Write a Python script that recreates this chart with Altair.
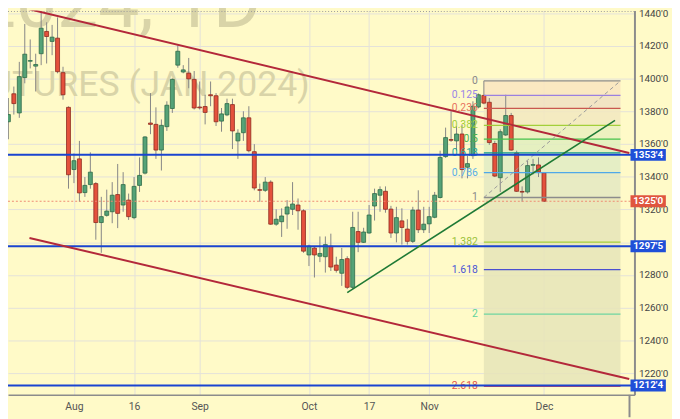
import altair as alt
import pandas as pd

# ---- data (index 0 = 14 Jul 2023 ... 98 = 1 Dec 2023, trading days) ----
DATE_TICKS = [12, 23, 35, 55, 66, 77, 98]
DATE_LABELS = ["Aug", "16", "Sep", "Oct", "17", "Nov", "Dec"]
PRICE_TICKS = [1220, 1240, 1260, 1280, 1300, 1320, 1340, 1360, 1380, 1400, 1420, 1440]
HIDDEN_PRICE_LABELS = [1300]  # covered by the 1297'5 marker in the original

OPEN = [1373.6, 1390.7, 1379.0, 1400.6, 1410.6, 1407.6, 1415.2, 1428.8, 1422.7, 1424.7,
        1403.6, 1382.4, 1344.4, 1350.9, 1330.3, 1335.2, 1335.8, 1312.0, 1316.4, 1318.6,
        1329.1, 1322.7, 1325.7, 1315.0, 1334.7, 1342.2, 1372.8, 1372.0, 1356.3, 1370.6,
        1381.7, 1408.2, 1404.0, 1403.3, 1399.5, 1382.6, 1382.9, 1390.1, 1389.5, 1374.0,
        1377.8, 1384.1, 1361.9, 1366.9, 1376.0, 1355.3, 1332.1, 1331.7, 1336.7, 1311.0,
        1312.5, 1317.2, 1320.1, 1322.7, 1319.2, 1292.2, 1296.4, 1291.4, 1291.1, 1297.5,
        1286.0, 1281.0, 1289.9, 1272.4, 1306.5, 1299.9, 1305.6, 1322.1, 1328.7, 1331.1,
        1320.2, 1305.6, 1313.0, 1308.0, 1300.5, 1319.6, 1307.6, 1311.2, 1315.2, 1327.3,
        1352.3, 1362.7, 1361.9, 1366.1, 1345.8, 1352.9, 1382.6, 1389.7, 1385.5, 1360.3,
        1339.4, 1365.5, 1377.4, 1354.5, 1331.0, 1330.7, 1347.0, 1347.2, 1342.3]
HIGH = [1388.1, 1395.1, 1410.2, 1433.4, 1423.9, 1415.2, 1440.4, 1434.4, 1432.8, 1437.4,
        1407.2, 1383.0, 1354.2, 1361.9, 1339.8, 1354.9, 1336.7, 1327.7, 1332.1, 1336.7,
        1347.8, 1342.8, 1329.7, 1339.8, 1351.8, 1364.8, 1391.1, 1382.4, 1375.0, 1386.1,
        1400.1, 1420.3, 1408.2, 1412.6, 1404.6, 1398.2, 1390.1, 1398.2, 1391.1, 1382.0,
        1387.7, 1387.7, 1369.0, 1380.0, 1383.1, 1359.9, 1335.8, 1339.8, 1337.8, 1320.1,
        1320.7, 1325.7, 1336.7, 1326.7, 1320.1, 1298.5, 1297.3, 1303.5, 1303.5, 1305.2,
        1291.1, 1296.5, 1291.4, 1318.6, 1318.6, 1308.8, 1322.7, 1332.7, 1334.1, 1334.1,
        1322.2, 1321.6, 1320.7, 1314.0, 1321.6, 1331.7, 1321.6, 1321.6, 1330.7, 1355.9,
        1370.0, 1380.0, 1371.0, 1372.0, 1352.9, 1386.1, 1390.9, 1398.6, 1388.1, 1361.9,
        1369.0, 1390.1, 1379.0, 1355.9, 1334.1, 1349.8, 1350.9, 1351.8, 1342.8]
LOW = [1362.9, 1378.0, 1376.0, 1397.1, 1406.2, 1392.1, 1408.2, 1409.2, 1414.3, 1403.2,
       1387.1, 1332.7, 1336.1, 1324.7, 1327.7, 1332.7, 1301.5, 1293.5, 1315.6, 1311.6,
       1308.6, 1318.6, 1313.6, 1314.0, 1330.7, 1341.4, 1366.0, 1350.9, 1343.8, 1368.0,
       1379.0, 1406.6, 1403.2, 1394.1, 1381.1, 1381.1, 1372.0, 1383.1, 1371.0, 1367.5,
       1377.0, 1356.9, 1350.9, 1361.9, 1354.9, 1331.7, 1324.7, 1330.7, 1310.6, 1310.0,
       1303.2, 1308.2, 1316.6, 1307.6, 1293.5, 1285.4, 1278.4, 1287.8, 1281.4, 1282.4,
       1281.4, 1273.3, 1271.3, 1271.3, 1293.9, 1299.5, 1305.2, 1313.2, 1318.6, 1318.0,
       1302.6, 1299.9, 1298.5, 1298.5, 1299.5, 1305.6, 1305.6, 1305.6, 1314.6, 1326.7,
       1351.5, 1361.3, 1355.9, 1339.0, 1339.0, 1350.9, 1381.8, 1384.3, 1359.5, 1339.8,
       1330.7, 1364.9, 1355.9, 1330.7, 1324.7, 1329.7, 1341.4, 1339.8, 1324.7]
CLOSE = [1378.0, 1384.7, 1401.2, 1414.9, 1411.0, 1408.6, 1430.8, 1425.7, 1425.3, 1404.2,
         1390.1, 1341.2, 1349.8, 1330.1, 1334.7, 1342.8, 1312.0, 1315.6, 1319.0, 1328.7,
         1317.6, 1335.2, 1315.6, 1334.1, 1340.8, 1364.3, 1372.0, 1356.3, 1371.4, 1383.7,
         1399.5, 1416.7, 1405.3, 1399.8, 1382.0, 1382.1, 1379.3, 1389.5, 1373.6, 1378.4,
         1384.7, 1368.0, 1366.6, 1376.0, 1355.9, 1333.1, 1331.7, 1336.7, 1311.0, 1314.0,
         1316.0, 1321.5, 1323.3, 1319.2, 1294.5, 1297.5, 1292.2, 1293.1, 1298.5, 1284.8,
         1282.8, 1289.4, 1272.4, 1309.0, 1299.9, 1306.2, 1316.6, 1329.7, 1332.1, 1320.1,
         1305.6, 1315.0, 1309.0, 1300.5, 1319.6, 1307.6, 1311.0, 1315.6, 1328.7, 1351.8,
         1363.9, 1362.3, 1366.1, 1344.4, 1348.0, 1383.1, 1390.1, 1385.0, 1360.9, 1340.4,
         1367.5, 1377.4, 1356.3, 1331.1, 1330.6, 1346.8, 1347.4, 1343.0, 1325.0]

# Fibonacci retracement (drawn from the 15 Nov high to the late-Nov low)
FIB_HIGH, FIB_LOW = 1398.6, 1327.3
FIB_START, FIB_END = 87, 112.0
FIB_LEVELS = [0, 0.125, 0.236, 0.382, 0.5, 0.618, 0.786, 1, 1.382, 1.618, 2, 2.618]
FIB_LABELS = ["0", "0.125", "0.236", "0.382", "0.5", "0.618", "0.786", "1",
              "1.382", "1.618", "2", "2.618"]
FIB_LINE_COLORS = ["#8c8c8c", "#9b7fe0", "#c9574f", "#a3cf3a", "#45c24a", "#0f9d8a",
                   "#4fa8e8", "#8c8c8c", "#a3cf3a", "#4a4fd0", "#6fd6a0", "#e84a4a"]
FIB_TEXT_COLORS = ["#888888", "#9a86e6", "#e8735f", "#a3cf3a", "#4caf50", "#26a69a",
                   "#5aaee8", "#888888", "#9bc23a", "#4a55d6", "#5fd39c", "#e5534b"]
BAND_FROM = [0, 0.125, 0.236, 0.382, 0.5, 0.618, 0.786, 1]
BAND_TO = [0.125, 0.236, 0.382, 0.5, 0.618, 0.786, 1, 2.618]
BAND_COLORS = ["#f9e4c0", "#f0dfc3", "#f2e7c0", "#eaefbe", "#e1edbe", "#e0ebc4",
               "#e4e8c2", "#e6e4b8"]

# horizontal levels
HLINES = [1353.4, 1297.5, 1212.4]
HLINE_LABELS = ["1353'4", "1297'5", "1212'4"]
LAST_PRICE, LAST_LABEL = 1325.0, "1325'0"
TOP_DOTTED = 1441.0

# trend lines: x1, y1, x2, y2 (bar index, price)
RED_LINES = [(1.78, 1444.0, 113.6, 1354.5), (3.86, 1302.6, 113.6, 1216.4)]
GREEN_LINE = [(62.0, 1269.2, 111.0, 1374.4)]

WATERMARK = ["ZSF2024, 1D", "SOYBEAN FUTURES (JAN 2024)"]

# ---- layout ----
W, H = 634, 389
XDOM = [0.836, 113.65]
YDOM = [1206.7, 1441.63]
BG = "#fffac8"
xs = alt.Scale(domain=XDOM, nice=False, zero=False)
ys = alt.Scale(domain=YDOM, nice=False, zero=False)

expr = ""
for t, l in zip(DATE_TICKS, DATE_LABELS):
    expr += f"datum.value == {t} ? '{l}' : "
expr += "''"

yexpr = ""
for h in HIDDEN_PRICE_LABELS:
    yexpr += f"datum.value == {h} ? '' : "
yexpr += "format(datum.value, 'd') + \"'0\""

x_axis = alt.Axis(values=DATE_TICKS, labelExpr=expr, grid=True, gridColor="#e4e2d9",
                  gridWidth=1, domain=True, domainColor="#8c8c8c", domainWidth=1.5,
                  ticks=False, labelColor="#555555", labelFont="Roboto", labelFontSize=10.5,
                  labelPadding=7, title=None, labelFlush=False, zindex=0)
y_axis = alt.Axis(orient="right", values=PRICE_TICKS, labelExpr=yexpr, grid=True,
                  gridColor="#e4e2d9", gridWidth=1, domain=True, domainColor="#8c8c8c",
                  domainWidth=2, ticks=False, labelAlign="left", labelPadding=4,
                  labelColor="#444444", labelFont="Roboto", labelFontSize=10, title=None,
                  zindex=0)

candles = pd.DataFrame({"i": list(range(len(OPEN))), "o": OPEN, "h": HIGH, "l": LOW, "c": CLOSE})
candles["d"] = ["up" if c >= o else "down" for o, c in zip(OPEN, CLOSE)]

span = FIB_HIGH - FIB_LOW
def lv(r):
    return FIB_HIGH - r * span

fib = pd.DataFrame({"x1": FIB_START, "x2": FIB_END, "v": [lv(r) for r in FIB_LEVELS],
                    "lbl": FIB_LABELS, "lc": FIB_LINE_COLORS, "tc": FIB_TEXT_COLORS,
                    "tx": 85.9})
bands = pd.DataFrame({"x1": FIB_START, "x2": FIB_END, "a": [lv(r) for r in BAND_FROM],
                      "b": [lv(r) for r in BAND_TO], "col": BAND_COLORS})
diag = pd.DataFrame({"x1": [FIB_START], "x2": [FIB_END], "y1": [FIB_LOW], "y2": [FIB_HIGH]})
red = pd.DataFrame(RED_LINES, columns=["x1", "y1", "x2", "y2"])
green = pd.DataFrame(GREEN_LINE, columns=["x1", "y1", "x2", "y2"])
hl = pd.DataFrame({"v": HLINES, "lbl": HLINE_LABELS})
boxes = pd.DataFrame({"v": HLINES + [LAST_PRICE], "lbl": HLINE_LABELS + [LAST_LABEL],
                      "col": ["#1f4fd8"] * 3 + ["#e0553f"]})
boxes["a"] = boxes["v"] - 3.6
boxes["b"] = boxes["v"] + 3.6
boxes["x1"] = 113.83
boxes["x2"] = 120.3
boxes["xt"] = 117.05
wm = pd.DataFrame({"t": WATERMARK, "x": [46.2, 55.1], "v": [1431.4, 1389.1], "s": [74, 36]})

# every layer shares the same axis definitions so they merge into one axis each
X = lambda f: alt.X(f, scale=xs, axis=x_axis)
Y = lambda f: alt.Y(f, scale=ys, axis=y_axis)

layers = []
# watermark
for k in range(len(wm)):
    layers.append(alt.Chart(wm.iloc[[k]]).mark_text(
        align="right", baseline="alphabetic", font="Roboto", fontSize=float(wm.s[k]),
        color="#d9d4a8").encode(x=X("x:Q"), y=Y("v:Q"), text="t:N"))
# fib bands
layers.append(alt.Chart(bands).mark_rect(opacity=0.85).encode(
    x=X("x1:Q"), x2="x2:Q", y=Y("a:Q"), y2="b:Q", color=alt.Color("col:N", scale=None)))
# wicks
layers.append(alt.Chart(candles).mark_rule(color="#858585", strokeWidth=1).encode(
    x=X("i:Q"), y=Y("l:Q"), y2="h:Q"))
# bodies
layers.append(alt.Chart(candles).mark_bar(size=4, strokeWidth=0.8).encode(
    x=X("i:Q"), y=Y("o:Q"), y2="c:Q",
    fill=alt.Fill("d:N", scale=alt.Scale(domain=["up", "down"], range=["#55a277", "#e4513c"]), legend=None),
    stroke=alt.Stroke("d:N", scale=alt.Scale(domain=["up", "down"], range=["#2e6b47", "#8e2a1e"]), legend=None)))
# fib level lines
layers.append(alt.Chart(fib).mark_rule(strokeWidth=1.3).encode(
    x=X("x1:Q"), x2="x2:Q", y=Y("v:Q"), color=alt.Color("lc:N", scale=None)))
# fib diagonal
layers.append(alt.Chart(diag).mark_rule(color="#9a9a9a", strokeWidth=1, strokeDash=[4, 3]).encode(
    x=X("x1:Q"), x2="x2:Q", y=Y("y1:Q"), y2="y2:Q"))
# fib labels
layers.append(alt.Chart(fib).mark_text(align="right", baseline="middle", font="Roboto",
                                       fontSize=10.5).encode(
    x=X("tx:Q"), y=Y("v:Q"), text="lbl:N", color=alt.Color("tc:N", scale=None)))
# price line & top dotted
layers.append(alt.Chart(pd.DataFrame({"v": [LAST_PRICE]})).mark_rule(
    color="#ef8a74", strokeWidth=1, strokeDash=[2, 2]).encode(y=Y("v:Q")))
layers.append(alt.Chart(pd.DataFrame({"v": [TOP_DOTTED]})).mark_rule(
    color="#9a9a9a", strokeWidth=1, strokeDash=[1, 2]).encode(y=Y("v:Q")))
# blue horizontal levels
layers.append(alt.Chart(hl).mark_rule(color="#1a44d0", strokeWidth=2).encode(y=Y("v:Q")))
# trend lines
layers.append(alt.Chart(red).mark_rule(color="#b3283a", strokeWidth=2, clip=True).encode(
    x=X("x1:Q"), x2="x2:Q", y=Y("y1:Q"), y2="y2:Q"))
layers.append(alt.Chart(green).mark_rule(color="#1f7a35", strokeWidth=1.6, clip=True).encode(
    x=X("x1:Q"), x2="x2:Q", y=Y("y1:Q"), y2="y2:Q"))
# right-hand price boxes
layers.append(alt.Chart(boxes).mark_rect(clip=False).encode(
    x=X("x1:Q"), x2="x2:Q", y=Y("a:Q"), y2="b:Q", color=alt.Color("col:N", scale=None)))
layers.append(alt.Chart(boxes).mark_text(clip=False, color="white", font="Roboto", fontSize=10,
                                         fontWeight="bold", baseline="middle").encode(
    x=X("xt:Q"), y=Y("v:Q"), text="lbl:N"))
# extension of the price-axis line down to the bottom edge
layers.append(alt.Chart(pd.DataFrame({"x": [XDOM[1]], "a": [YDOM[0]], "b": [1193.0]})).mark_rule(
    color="#8c8c8c", strokeWidth=2, clip=False).encode(x=X("x:Q"), y=Y("a:Q"), y2="b:Q"))

chart = alt.layer(*layers).properties(
    width=W, height=H, background=BG,
    padding={"left": 0, "top": 0, "right": 38, "bottom": 22},
    autosize=alt.AutoSizeParams(type="none"),
).configure_view(stroke=None)

chart.save("out.html", embed_options={"renderer": "svg", "actions": False})
